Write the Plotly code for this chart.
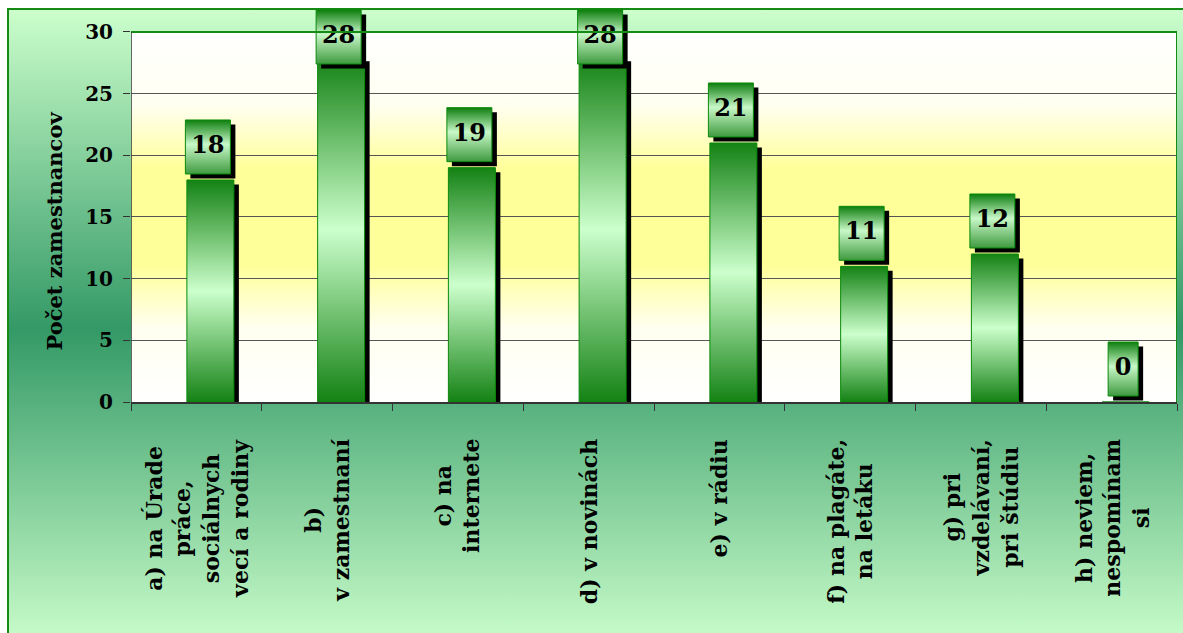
import base64
import plotly.graph_objects as go

# ---------------- data ----------------
categories = [
    "a) na Úrade<br>práce,<br>sociálnych<br>vecí a rodiny",
    "b)<br>v zamestnaní",
    "c) na<br>internete",
    "d) v novinách",
    "e) v rádiu",
    "f) na plagáte,<br>na letáku",
    "g) pri<br>vzdelávaní,<br>pri štúdiu",
    "h) neviem,<br>nespomínam<br>si",
]
values = [18, 28, 19, 28, 21, 11, 12, 0]
y_ticks = [0, 5, 10, 15, 20, 25, 30]
y_title = "Počet zamestnancov"

# ---------------- layout constants ----------------
FONT = "DejaVu Serif"
W, H = 1183, 633
ML, MR, MT, MB = 131, 6, 2, 231
PLOT_W = W - ML - MR
PLOT_H = H - MT - MB
Y_AX_MAX = 30
Y_RANGE_TOP = 32.43
N = len(categories)
UX = N / PLOT_W            # x data units per pixel
UY = Y_RANGE_TOP / PLOT_H  # y data units per pixel

BAR_SHIFT = 14 * UX
BAR_HALF = 23.5 * UX
BOX_SHIFT = 11.5 * UX
SH_DX = 5 * UX
SH_DY = 4.5 * UY
BOX_GAP = 6 * UY
BOX_H = 54 * UY
BOX_TOP_MAX = (PLOT_H + MT - 10) * UY

GREEN_DARK = "#148214"
GREEN_LIGHT = "#ccffcc"


def svg_uri(svg):
    return "data:image/svg+xml;base64," + base64.b64encode(svg.encode("utf-8")).decode("ascii")


outer_svg = f'''<svg xmlns="http://www.w3.org/2000/svg" width="{W}" height="{H}" viewBox="0 0 {W} {H}" preserveAspectRatio="none">
<defs><linearGradient id="g" x1="0" y1="0" x2="0" y2="1">
<stop offset="0" stop-color="#ccffcc"/><stop offset="0.5" stop-color="#339966"/><stop offset="1" stop-color="#ccffcc"/>
</linearGradient></defs>
<rect x="0" y="0" width="{W}" height="{H}" fill="#ffffff"/>
<rect x="8" y="9" width="1200" height="640" fill="url(#g)" stroke="#158a15" stroke-width="2"/>
</svg>'''

plot_svg = '''<svg xmlns="http://www.w3.org/2000/svg" width="1046" height="370" viewBox="0 0 1046 370" preserveAspectRatio="none">
<defs><linearGradient id="p" x1="0" y1="0" x2="0" y2="1">
<stop offset="0" stop-color="#ffffff"/><stop offset="0.2" stop-color="#fffff0"/>
<stop offset="0.37" stop-color="#ffff99"/><stop offset="0.63" stop-color="#ffff99"/>
<stop offset="0.8" stop-color="#fffff0"/><stop offset="1" stop-color="#ffffff"/>
</linearGradient></defs>
<rect x="0" y="0" width="1046" height="370" fill="url(#p)"/>
</svg>'''

fig = go.Figure()


def rect(x0, x1, y0, y1):
    return [x0, x1, x1, x0, x0], [y0, y0, y1, y1, y0]


# bar shadows
for i, v in enumerate(values):
    c = i + BAR_SHIFT + SH_DX
    xs, ys = rect(c - BAR_HALF, c + BAR_HALF, 0, v - SH_DY)
    if v > 0:
        fig.add_trace(go.Scatter(x=xs, y=ys, mode="lines", fill="toself", fillcolor="#000000",
                                 line=dict(width=0, color="#000000"), hoverinfo="skip", showlegend=False))

# bars
for i, v in enumerate(values):
    c = i + BAR_SHIFT
    xs, ys = rect(c - BAR_HALF, c + BAR_HALF, 0, v)
    fig.add_trace(go.Scatter(
        x=xs, y=ys, mode="lines", fill="toself",
        fillgradient=dict(type="vertical",
                          colorscale=[[0, GREEN_DARK], [0.5, GREEN_LIGHT], [1, GREEN_DARK]]),
        line=dict(width=1, color="#0a8a0a"), hoverinfo="skip", showlegend=False))

# label boxes
box_info = []
for i, v in enumerate(values):
    top = min(v + BOX_GAP + BOX_H, BOX_TOP_MAX)
    bot = top - BOX_H
    half = (15 + 15 * len(str(v))) / 2 * UX
    c = i + BOX_SHIFT
    box_info.append((c, bot, top, half))

for c, bot, top, half in box_info:
    xs, ys = rect(c - half + SH_DX, c + half + SH_DX, bot - SH_DY, top - SH_DY)
    fig.add_trace(go.Scatter(x=xs, y=ys, mode="lines", fill="toself", fillcolor="#000000",
                             line=dict(width=0, color="#000000"), hoverinfo="skip", showlegend=False))

for c, bot, top, half in box_info:
    xs, ys = rect(c - half, c + half, bot, top)
    fig.add_trace(go.Scatter(
        x=xs, y=ys, mode="lines", fill="toself",
        fillgradient=dict(type="vertical",
                          colorscale=[[0, "#3f9a3f"], [0.55, "#c8f8c8"], [1, "#0e7e0e"]]),
        line=dict(width=1, color="#0a8a0a"), hoverinfo="skip", showlegend=False))

fig.add_trace(go.Scatter(
    x=[b[0] for b in box_info], y=[(b[1] + b[2]) / 2 for b in box_info],
    mode="text", text=[str(v) for v in values], textposition="middle center",
    textfont=dict(family=FONT, size=24, color="#000000", weight="bold"),
    cliponaxis=False, hoverinfo="skip", showlegend=False))

annotations = []
for i, lab in enumerate(categories):
    annotations.append(dict(
        x=i, xref="x", y=(PLOT_H + MT - 437) / PLOT_H, yref="paper",
        text=lab, showarrow=False, textangle=-90, align="center",
        xanchor="center", yanchor="top",
        font=dict(family=FONT, size=22, color="#000000", weight="bold")))

annotations.append(dict(
    x=(55 - ML) / PLOT_W, xref="paper", y=13.9, yref="y", text=y_title,
    showarrow=False, textangle=-90, xanchor="center", yanchor="middle",
    font=dict(family=FONT, size=21, color="#000000", weight="bold")))

shapes = [
    dict(type="line", xref="x", yref="y", x0=-0.5, x1=N - 0.5, y0=Y_AX_MAX, y1=Y_AX_MAX,
         line=dict(color="#158a15", width=2)),
    dict(type="line", xref="x", yref="y", x0=N - 0.5, x1=N - 0.5, y0=0, y1=Y_AX_MAX,
         line=dict(color="#158a15", width=2)),
    dict(type="line", xref="x", yref="y", x0=-0.5, x1=-0.5, y0=0, y1=Y_AX_MAX,
         line=dict(color="#333333", width=1.5)),
]

fig.update_layout(
    width=W, height=H,
    margin=dict(l=ML, r=MR, t=MT, b=MB),
    paper_bgcolor="#ffffff",
    plot_bgcolor="rgba(0,0,0,0)",
    showlegend=False,
    annotations=annotations,
    shapes=shapes,
    images=[
        dict(source=svg_uri(outer_svg), xref="paper", yref="paper",
             x=-ML / PLOT_W, y=(PLOT_H + MT) / PLOT_H, sizex=W / PLOT_W, sizey=H / PLOT_H,
             xanchor="left", yanchor="top", sizing="stretch", layer="below"),
        dict(source=svg_uri(plot_svg), xref="x", yref="y",
             x=-0.5, y=Y_AX_MAX, sizex=N, sizey=Y_AX_MAX,
             xanchor="left", yanchor="top", sizing="stretch", layer="below"),
    ],
    xaxis=dict(range=[-0.5, N - 0.5], tickvals=[k - 0.5 for k in range(N + 1)],
               ticktext=[""] * (N + 1), ticks="outside", ticklen=7, tickcolor="#333333",
               showgrid=False, zeroline=False, showline=True, linecolor="#333333", linewidth=1.5,
               fixedrange=True),
    yaxis=dict(range=[0, Y_RANGE_TOP], tickvals=y_ticks, ticks="outside", ticklen=7,
               tickcolor="#333333", showgrid=True, gridcolor="#555555", gridwidth=1,
               zeroline=False, showline=False,
               tickfont=dict(family=FONT, size=20, color="#000000", weight="bold"),
               ticklabelstandoff=6, fixedrange=True),
)

fig.write_html("out.html")
